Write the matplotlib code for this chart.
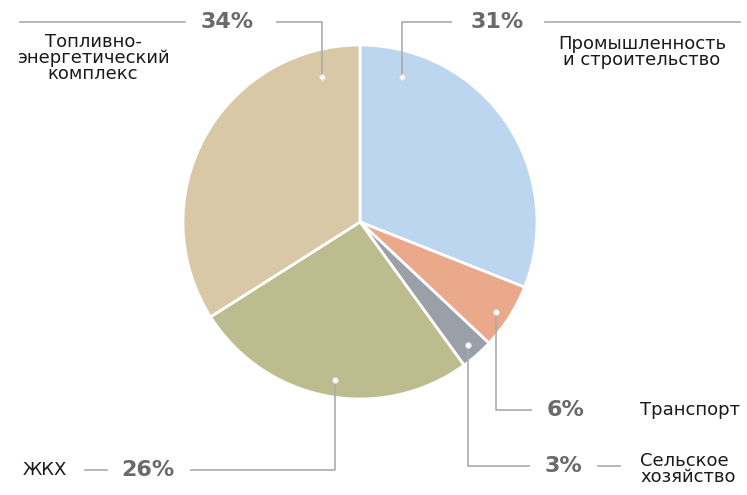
import matplotlib.pyplot as plt

# data
sectors = ["Промышленность\nи строительство", "Транспорт", "Сельское\nхозяйство",
           "ЖКХ", "Топливно-\nэнергетический\nкомплекс"]
shares = [31, 6, 3, 26, 34]
colors = ["#bdd6ef", "#eaa98b", "#9b9fa7", "#bdbc8f", "#d9c8a6"]

W, H = 747, 495
LINE = "#ababab"
PCT = dict(color="#6a6a6a", fontsize=16, fontweight="bold", family="DejaVu Sans")
LBL = dict(color="#1a1a1a", fontsize=13, family="DejaVu Sans", linespacing=0.88)


def py(y):
    # pixel row (top-down) -> data y
    return H - y


fig = plt.figure(figsize=(W / 100, H / 100), dpi=100)
ax = fig.add_axes([0, 0, 1, 1])
ax.pie(shares, colors=colors, startangle=90, counterclock=False,
       center=(360, py(222)), radius=177,
       wedgeprops=dict(edgecolor="white", linewidth=2))
ax.set_xlim(0, W)
ax.set_ylim(0, H)
ax.set_aspect("equal")
ax.axis("off")


def leader(pts, dot):
    xs = [p[0] for p in pts]
    ys = [py(p[1]) for p in pts]
    ax.plot(xs, ys, color=LINE, lw=1.2, solid_capstyle="butt")
    ax.plot(dot[0], py(dot[1]), "o", ms=4, mfc="white", mec="#dddddd", mew=0.8)


def seg(x0, x1, y):
    ax.plot([x0, x1], [py(y), py(y)], color=LINE, lw=1.2)


# Топливно-энергетический комплекс, 34%
leader([(322, 77), (322, 22), (276, 22)], (322, 77))
seg(20, 185, 22)
ax.text(227, py(22), f"{shares[4]}%", ha="center", va="center", **PCT)
ax.text(93, py(58), sectors[4], ha="center", va="center", **LBL)

# Промышленность и строительство, 31%
leader([(402, 77), (402, 22), (452, 22)], (402, 77))
seg(545, 740, 22)
ax.text(497, py(22), f"{shares[0]}%", ha="center", va="center", **PCT)
ax.text(642, py(52), sectors[0], ha="center", va="center", **LBL)

# Транспорт, 6%
leader([(496, 312), (496, 410), (532, 410)], (496, 312))
ax.text(566, py(410), f"{shares[1]}%", ha="center", va="center", **PCT)
ax.text(640, py(410), sectors[1], ha="left", va="center", **LBL)

# Сельское хозяйство, 3%
leader([(468, 345), (468, 466), (530, 466)], (468, 345))
seg(598, 620, 466)
ax.text(563, py(466), f"{shares[2]}%", ha="center", va="center", **PCT)
ax.text(640, py(469), sectors[2], ha="left", va="center", **LBL)

# ЖКХ, 26%
leader([(335, 380), (335, 470), (190, 470)], (335, 380))
seg(85, 107, 470)
ax.text(148, py(470), f"{shares[3]}%", ha="center", va="center", **PCT)
ax.text(23, py(470), sectors[3], ha="left", va="center", **LBL)

fig.savefig("out.png", dpi=100)
